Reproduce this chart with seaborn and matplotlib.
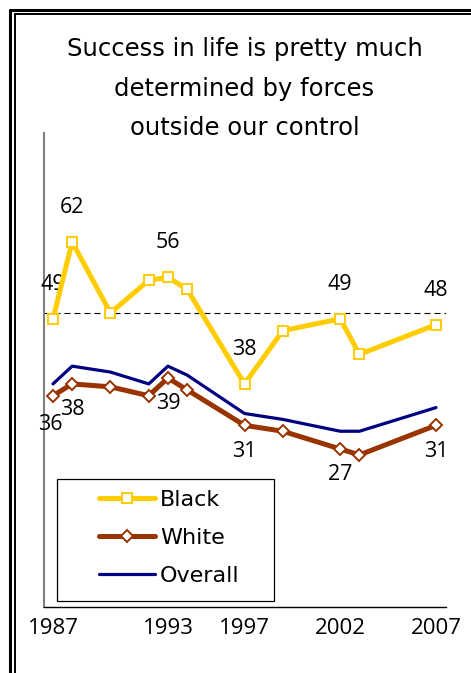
import numpy as np
import pandas as pd
import matplotlib.pyplot as plt
import matplotlib.lines as mlines
import matplotlib.patches as mpatches
import seaborn as sns

# values
years = [1987, 1988, 1990, 1992, 1993, 1994, 1997, 1999, 2002, 2003, 2007]
black = [49, 62, 50, 55.5, 56, 54, 38, 47, 49, 43, 48]
white = [36, 38, 37.5, 36, 39, 37, 31, 30, 27, 26, 31]
overall = [38, 41, 40, 38, 41, 39.5, 33, 32, 30, 30, 34]
labeled_years = [1987, 1988, 1993, 1997, 2002, 2007]
tick_years = [1987, 1993, 1997, 2002, 2007]
reference = 50
title_lines = ['Success in life is pretty much', 'determined by forces', 'outside our control']

sns.set_style('white')
plt.rcParams['font.family'] = ['DejaVu Sans']
plt.rcParams['text.color'] = 'black'
plt.rcParams['xtick.color'] = 'black'
plt.rcParams['lines.scale_dashes'] = False
plt.rcParams['lines.solid_joinstyle'] = 'round'
plt.rcParams['lines.solid_capstyle'] = 'round'

W, H = 471, 673
fig = plt.figure(figsize=(W / 100, H / 100), dpi=100)
ax = fig.add_axes([44 / W, 1 - 607 / H, 402 / W, 474 / H])

gold = '#FFCC00'
brown = '#993300'
navy = '#000080'

ax.axhline(reference, color='black', lw=0.8, dashes=(4.3, 2.9), zorder=1)

sns.lineplot(x=years, y=overall, ax=ax, color=navy, lw=2.3, label='Overall', zorder=2)
sns.lineplot(x=years, y=white, ax=ax, color=brown, lw=3.6, marker='D', markersize=6,
             markerfacecolor='white', markeredgecolor=brown, markeredgewidth=1.4,
             label='White', zorder=3)
sns.lineplot(x=years, y=black, ax=ax, color=gold, lw=3.6, marker='s', markersize=7,
             markerfacecolor='white', markeredgecolor=gold, markeredgewidth=1.4,
             label='Black', zorder=4)

lab_font = dict(family='Open Sans', size=15.5, color='black')
for yr, b, w in zip(years, black, white):
    if yr in labeled_years:
        ax.annotate(f'{b:.0f}', (yr, b), xytext=(0, 25), textcoords='offset points',
                    ha='center', va='center', **lab_font)
        # the first white label sits a touch lower/left so it clears its neighbour
        dx, dy = (-2, -20.5) if yr == years[0] else (0, -18.5)
        ax.annotate(f'{w:.0f}', (yr, w), xytext=(dx, dy), textcoords='offset points',
                    ha='center', va='center', **lab_font)

ax.set_xlim(1986.53, 2007.52)
ax.set_ylim(0.3, 80.4)
ax.set_yticks([])
ax.set_xticks(tick_years)
ax.set_xticklabels([str(t) for t in tick_years], family='Open Sans', fontsize=16, color='black')
ax.tick_params(axis='x', length=0, pad=8)
ax.set_xlabel('')
ax.set_ylabel('')
for s in ['top', 'right']:
    ax.spines[s].set_visible(False)
ax.spines['left'].set_color('#808080')
ax.spines['left'].set_linewidth(1.5)
ax.spines['bottom'].set_color('black')
ax.spines['bottom'].set_linewidth(1.0)

# legend box
ax.add_patch(mpatches.Rectangle((13 / 402, 6 / 474), 217 / 402, 122 / 474,
                                transform=ax.transAxes, fill=True, facecolor='white',
                                edgecolor='black', lw=0.9, zorder=5))
handles, labels = ax.get_legend_handles_labels()
order = [labels.index(n) for n in ['Black', 'White', 'Overall']]
leg = ax.legend([handles[i] for i in order], [labels[i] for i in order],
                loc='center left', bbox_to_anchor=(55 / 402, 69 / 474),
                frameon=False, borderpad=0, borderaxespad=0, handlelength=2.5,
                handletextpad=0.25, labelspacing=0.8, numpoints=1,
                prop=dict(family='DejaVu Sans', size=16))
leg.set_zorder(6)
for t in leg.get_texts():
    t.set_color('black')

# title
for line, base in zip(title_lines, [56, 96, 135]):
    fig.text(244.5 / W, 1 - base / H, line, ha='center', va='baseline',
             fontsize=17.5, color='black')

# double frame around the chart
fig.add_artist(mlines.Line2D([9.5 / W, 9.5 / W], [0, 1 - 9.5 / H], color='black', lw=2.2,
                             transform=fig.transFigure))
fig.add_artist(mlines.Line2D([9.5 / W, 1], [1 - 9.5 / H, 1 - 9.5 / H], color='black', lw=2.2,
                             transform=fig.transFigure))
fig.add_artist(mlines.Line2D([14.8 / W, 14.8 / W], [0, 1 - 14.3 / H], color='black', lw=1.4,
                             transform=fig.transFigure))
fig.add_artist(mlines.Line2D([14.8 / W, 1], [1 - 14.3 / H, 1 - 14.3 / H], color='black', lw=1.4,
                             transform=fig.transFigure))

fig.savefig('out.png', dpi=100, facecolor='white')
